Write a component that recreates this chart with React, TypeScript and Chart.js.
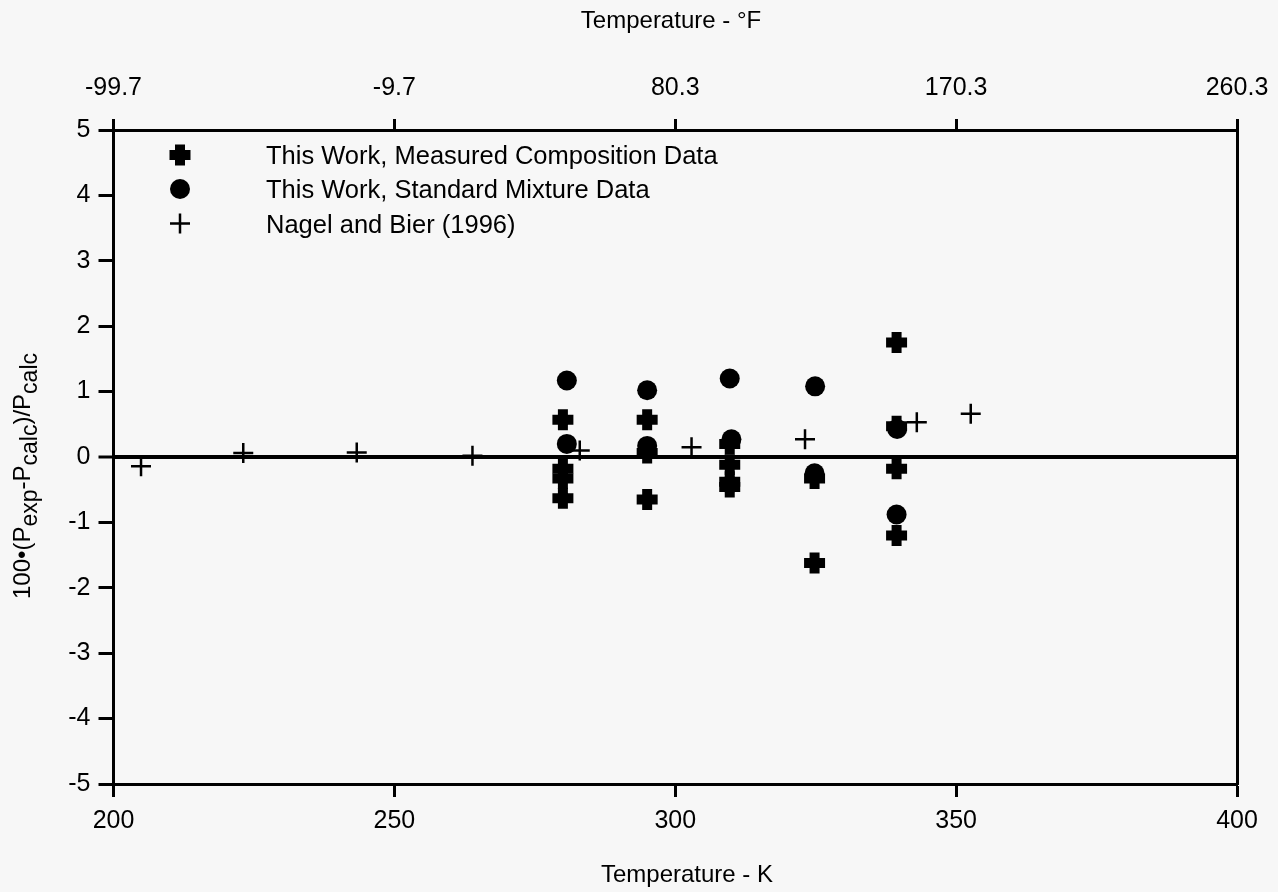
import React, { useEffect, useRef } from 'react';
import { Chart, registerables } from 'chart.js';

Chart.register(...registerables);

// ---------- data ----------
const kelvinTicks = [200, 250, 300, 350, 400];
const yTickValues = [-5, -4, -3, -2, -1, 0, 1, 2, 3, 4, 5];

const measuredTemp = [280.0, 280.0, 280.0, 280.0, 295.0, 295.0, 295.0, 309.7, 309.7, 309.7, 309.7, 324.8, 324.8, 339.4, 339.4, 339.4, 339.4];
const measuredDev = [0.57, -0.18, -0.33, -0.63, 0.57, 0.06, -0.65, 0.2, -0.12, -0.38, -0.46, -0.33, -1.62, 1.75, 0.47, -0.18, -1.2];

const standardTemp = [280.7, 280.7, 295.0, 295.0, 309.7, 310.0, 324.9, 324.8, 339.5, 339.4];
const standardDev = [1.17, 0.2, 1.02, 0.17, 1.2, 0.27, 1.08, -0.25, 0.43, -0.88];

const nagelTemp = [204.9, 223.1, 243.3, 263.9, 283.0, 302.9, 323.1, 343.0, 352.6];
const nagelDev = [-0.14, 0.06, 0.07, 0.02, 0.1, 0.15, 0.27, 0.53, 0.66];

const seriesLabels = [
  'This Work, Measured Composition Data',
  'This Work, Standard Mixture Data',
  'Nagel and Bier (1996)',
];
const topTitle = 'Temperature - \u00B0F';
const bottomTitle = 'Temperature - K';
const yTitleParts = [
  { t: '100\u2022(P', sub: false },
  { t: 'exp', sub: true },
  { t: '-P', sub: false },
  { t: 'calc', sub: true },
  { t: ')/P', sub: false },
  { t: 'calc', sub: true },
];

const FONT = '"Liberation Sans", Arial, Helvetica, sans-serif';

const toPoints = (xs: number[], ys: number[]) => xs.map((x, i) => ({ x, y: ys[i] }));
const kToF = (k: number) => ((k - 273.15) * 9) / 5 + 32;

const bgPlugin = {
  id: 'bgFill',
  beforeDraw(chart: any) {
    const { ctx, width, height } = chart;
    ctx.save();
    ctx.fillStyle = '#f7f7f7';
    ctx.fillRect(0, 0, width, height);
    ctx.restore();
  },
};

function drawThickCross(ctx: CanvasRenderingContext2D, x: number, y: number) {
  ctx.save();
  ctx.strokeStyle = '#000';
  ctx.lineWidth = 10;
  ctx.lineCap = 'butt';
  ctx.beginPath();
  ctx.moveTo(x - 10.5, y);
  ctx.lineTo(x + 10.5, y);
  ctx.moveTo(x, y - 10.5);
  ctx.lineTo(x, y + 10.5);
  ctx.stroke();
  ctx.restore();
}
function drawDot(ctx: CanvasRenderingContext2D, x: number, y: number) {
  ctx.save();
  ctx.fillStyle = '#000';
  ctx.beginPath();
  ctx.arc(x, y, 10, 0, Math.PI * 2);
  ctx.fill();
  ctx.restore();
}
function drawThinPlus(ctx: CanvasRenderingContext2D, x: number, y: number) {
  ctx.save();
  ctx.strokeStyle = '#000';
  ctx.lineWidth = 2.5;
  ctx.beginPath();
  ctx.moveTo(x - 10, y);
  ctx.lineTo(x + 10, y);
  ctx.moveTo(x, y - 10);
  ctx.lineTo(x, y + 10);
  ctx.stroke();
  ctx.restore();
}

const textPlugin = {
  id: 'texts',
  afterDraw(chart: any) {
    const ctx: CanvasRenderingContext2D = chart.ctx;
    const area = chart.chartArea;
    ctx.save();
    ctx.fillStyle = '#000';
    ctx.textBaseline = 'alphabetic';

    // axis titles
    ctx.font = `24px ${FONT}`;
    ctx.textAlign = 'center';
    ctx.fillText(topTitle, 671, 28);
    ctx.fillText(bottomTitle, 687, 881.5);

    // rotated y title with subscripts
    const mainFont = `24px ${FONT}`;
    const subFont = `23px ${FONT}`;
    let total = 0;
    const widths = yTitleParts.map((p) => {
      ctx.font = p.sub ? subFont : mainFont;
      const w = ctx.measureText(p.t).width;
      total += w;
      return w;
    });
    const centerY = (area.top + area.bottom) / 2 + 19;
    ctx.save();
    ctx.translate(30, centerY + total / 2);
    ctx.rotate(-Math.PI / 2);
    ctx.textAlign = 'left';
    let pos = 0;
    yTitleParts.forEach((p, i) => {
      ctx.font = p.sub ? subFont : mainFont;
      ctx.fillText(p.t, pos, p.sub ? 6.5 : 0);
      pos += widths[i];
    });
    ctx.restore();

    // legend
    const legendMarkerX = 180;
    const legendTextX = 266;
    const rows = [155, 189, 223.5];
    drawThickCross(ctx, legendMarkerX, rows[0]);
    drawDot(ctx, legendMarkerX, rows[1]);
    drawThinPlus(ctx, legendMarkerX, rows[2]);
    ctx.font = `25.5px ${FONT}`;
    ctx.textAlign = 'left';
    seriesLabels.forEach((label, i) => {
      ctx.fillText(label, legendTextX, rows[i] + 9);
    });
    ctx.restore();
  },
};

export default function App() {
  const canvasRef = useRef<HTMLCanvasElement | null>(null);

  useEffect(() => {
    if (!canvasRef.current) return;
    const tickFont = { family: FONT, size: 25 };
    const noHorizPad = (s: any) => {
      s.paddingLeft = 0;
      s.paddingRight = 0;
    };
    const chart = new Chart(canvasRef.current, {
      type: 'scatter',
      data: {
        datasets: [
          {
            label: seriesLabels[0],
            data: toPoints(measuredTemp, measuredDev),
            pointStyle: 'cross',
            pointRadius: 10.5,
            pointBorderWidth: 10,
            borderColor: '#000',
            backgroundColor: '#000',
            order: 1,
          },
          {
            label: seriesLabels[1],
            data: toPoints(standardTemp, standardDev),
            pointStyle: 'circle',
            pointRadius: 10,
            pointBorderWidth: 0,
            borderColor: '#000',
            backgroundColor: '#000',
            order: 0,
          },
          {
            label: seriesLabels[2],
            data: toPoints(nagelTemp, nagelDev),
            pointStyle: 'cross',
            pointRadius: 10,
            pointBorderWidth: 2.5,
            borderColor: '#000',
            backgroundColor: '#000',
            order: 2,
          },
        ],
      },
      options: {
        animation: false,
        responsive: true,
        maintainAspectRatio: false,
        layout: { padding: { left: 0, right: 41, top: 0, bottom: 0 } },
        plugins: {
          legend: { display: false },
          tooltip: { enabled: false },
          title: { display: false },
        },
        scales: {
          x: {
            type: 'linear',
            position: 'bottom',
            min: 200,
            max: 400,
            afterBuildTicks: (s: any) => {
              s.ticks = kelvinTicks.map((v) => ({ value: v }));
            },
            afterFit: (s: any) => {
              s.height = 108;
              noHorizPad(s);
            },
            ticks: {
              font: tickFont,
              color: '#000',
              padding: 9,
              maxRotation: 0,
              autoSkip: false,
              callback: (v: any) => String(v),
            },
            grid: {
              drawOnChartArea: false,
              drawTicks: true,
              tickLength: 13,
              tickWidth: 3,
              tickColor: '#000',
            },
            border: { display: true, color: '#000', width: 3 },
          },
          x2: {
            type: 'linear',
            position: 'top',
            min: 200,
            max: 400,
            afterBuildTicks: (s: any) => {
              s.ticks = kelvinTicks.map((v) => ({ value: v }));
            },
            afterFit: (s: any) => {
              s.height = 130;
              noHorizPad(s);
            },
            ticks: {
              font: tickFont,
              color: '#000',
              padding: 16,
              maxRotation: 0,
              autoSkip: false,
              callback: (v: any) => kToF(Number(v)).toFixed(1),
            },
            grid: {
              drawOnChartArea: false,
              drawTicks: true,
              tickLength: 11,
              tickWidth: 3,
              tickColor: '#000',
            },
            border: { display: true, color: '#000', width: 3 },
          },
          y: {
            type: 'linear',
            position: 'left',
            min: -5,
            max: 5,
            afterBuildTicks: (s: any) => {
              s.ticks = yTickValues.map((v) => ({ value: v }));
            },
            afterFit: (s: any) => {
              s.width = 113.5;
            },
            ticks: {
              font: tickFont,
              color: '#000',
              padding: 8,
              callback: (v: any) => String(v),
            },
            grid: {
              drawOnChartArea: true,
              drawTicks: true,
              tickLength: 15,
              tickWidth: 3,
              tickColor: '#000',
              color: (c: any) => (c.tick && c.tick.value === 0 ? '#000' : 'rgba(0,0,0,0)'),
              lineWidth: (c: any) => (c.tick && c.tick.value === 0 ? 4 : 1),
            },
            border: { display: true, color: '#000', width: 3 },
          },
          y2: {
            type: 'linear',
            position: 'right',
            min: -5,
            max: 5,
            afterFit: (s: any) => {
              s.width = 0;
            },
            ticks: { display: false },
            grid: { display: false, drawTicks: false },
            border: { display: true, color: '#000', width: 3 },
          },
        },
      } as any,
      plugins: [bgPlugin, textPlugin],
    });
    return () => chart.destroy();
  }, []);

  return (
    <div style={{ position: 'absolute', left: 0, top: 0, width: 1278, height: 892 }}>
      <canvas ref={canvasRef} />
    </div>
  );
}
